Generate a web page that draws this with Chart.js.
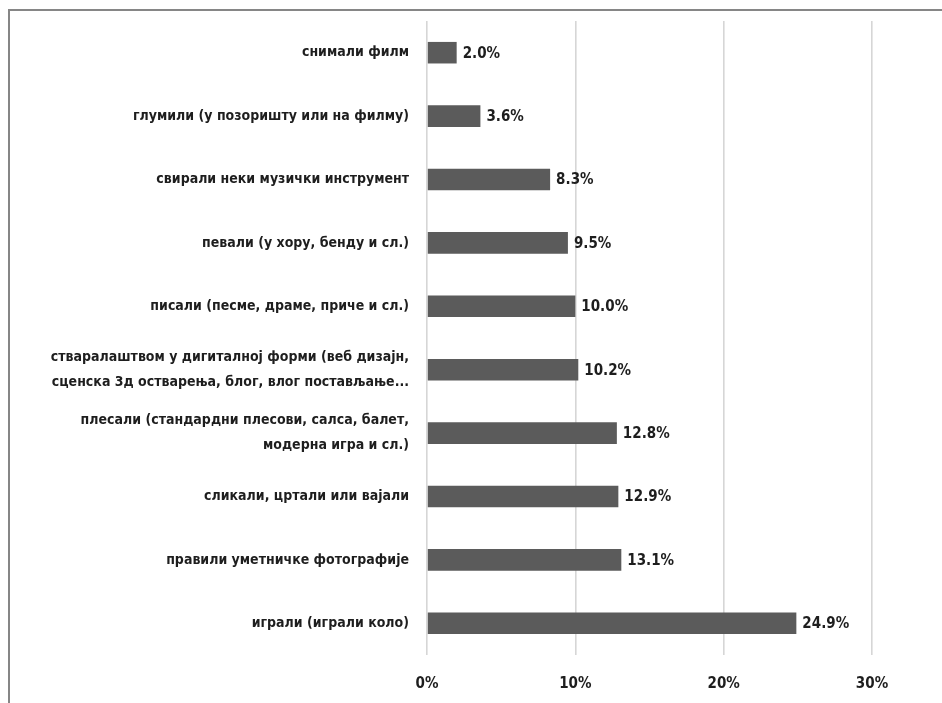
<!DOCTYPE html>
<html><head><meta charset="utf-8">
<script src="https://cdn.jsdelivr.net/npm/chart.js@4"></script>
<style>
html,body{margin:0;padding:0;background:#fff;}
#wrap{position:relative;width:942px;height:703px;}
#frame{position:absolute;left:8px;top:9px;width:960px;height:720px;border-top:2px solid #868686;border-left:2px solid #868686;pointer-events:none;}
canvas{position:absolute;left:0;top:0;}
</style></head>
<body>
<div id="wrap"><canvas id="c" width="942" height="703"></canvas><div id="frame"></div></div>
<script>
const categories = [
  "снимали филм",
  "глумили (у позоришту или на филму)",
  "свирали неки музички инструмент",
  "певали (у хору, бенду и сл.)",
  "писали (песме, драме, приче и сл.)",
  ["стваралаштвом у дигиталној форми (веб дизајн,", "сценска 3д остварења, блог, влог постављање..."],
  ["плесали (стандардни плесови, салса, балет,", "модерна игра и сл.)"],
  "сликали, цртали или вајали",
  "правили уметничке фотографије",
  "играли (играли коло)"
];
const values = [2.0, 3.6, 8.3, 9.5, 10.0, 10.2, 12.8, 12.9, 13.1, 24.9];
const xTicks = [0, 10, 20, 30];

const FONT = "'Liberation Sans Narrow','DejaVu Sans Condensed','Arial Narrow',sans-serif";

const valueLabels = {
  id: 'valueLabels',
  afterDatasetsDraw(chart) {
    const ctx = chart.ctx;
    const meta = chart.getDatasetMeta(0);
    ctx.save();
    ctx.font = "bold 15px " + FONT;
    ctx.fillStyle = '#1e1e1e';
    ctx.textAlign = 'left';
    ctx.textBaseline = 'middle';
    meta.data.forEach((bar, i) => {
      ctx.fillText(values[i].toFixed(1) + '%', bar.x + 6, bar.y + 1);
    });
    ctx.restore();
  }
};

new Chart(document.getElementById('c'), {
  type: 'bar',
  data: {
    labels: categories,
    datasets: [{
      data: values,
      backgroundColor: '#5b5b5b',
      borderWidth: 0,
      barPercentage: 0.68,
      categoryPercentage: 0.5
    }]
  },
  options: {
    indexAxis: 'y',
    responsive: false,
    animation: false,
    devicePixelRatio: 1,
    layout: { padding: { top: 21, right: 70, bottom: 0, left: 0 } },
    plugins: { legend: { display: false }, tooltip: { enabled: false } },
    scales: {
      x: {
        min: 0, max: 30,
        afterBuildTicks(scale) { scale.ticks = xTicks.map(v => ({ value: v })); },
        afterFit(scale) { scale.height = 48; scale.paddingLeft = 0; scale.paddingRight = 0; },
        grid: { color: '#d6d6d6', lineWidth: 1.6, drawTicks: false },
        border: { display: false },
        ticks: {
          padding: 20,
          color: '#1e1e1e',
          font: { family: FONT, size: 15, weight: 'bold' },
          callback: v => v + '%'
        }
      },
      y: {
        afterFit(scale) { scale.width = 427; scale.paddingTop = 0; scale.paddingBottom = 0; },
        grid: { display: false, drawTicks: false },
        border: { display: false },
        ticks: {
          padding: 18,
          color: '#1e1e1e',
          font: { family: FONT, size: 14, weight: 'bold', lineHeight: 1.8 }
        }
      }
    }
  },
  plugins: [valueLabels]
});
</script>
</body></html>
